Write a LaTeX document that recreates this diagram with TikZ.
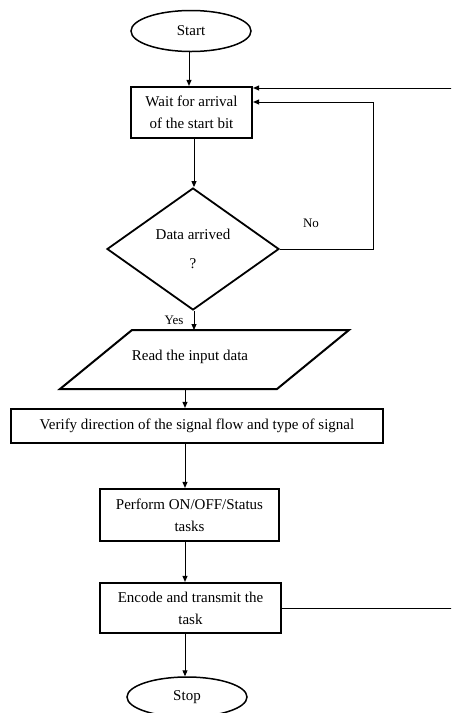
\documentclass[tikz,border=0pt]{standalone}
\usepackage{fontspec}
\setmainfont{Liberation Serif}
\usetikzlibrary{shapes.geometric,arrows.meta}
\begin{document}
\begin{tikzpicture}[x=1pt,y=-1pt,
  font=\fontsize{15}{22}\selectfont,
  term/.style={ellipse,draw,line width=1.5pt,inner sep=0pt},
  procbox/.style={rectangle,draw,line width=2.2pt,align=center,inner sep=0pt},
  decbox/.style={diamond,draw,line width=1.8pt,inner sep=0pt,align=center},
  flow/.style={line width=1pt,-{Triangle[length=6pt,width=5pt]}},
  plain/.style={line width=1pt}]
\useasboundingbox (0,0) rectangle (451,713);
\clip (0,0) rectangle (451,713);
\node[term,minimum width=120pt,minimum height=41pt] (start) at (191,31) {Start};
\node[procbox,minimum width=121pt,minimum height=51pt] (wait) at (191.5,112.5) {Wait for arrival\\of the start bit};
\node[decbox,minimum width=172pt,minimum height=122pt] (dec) at (193,249) {Data arrived\\[7pt]?};
\draw[line width=2pt] (60,389) -- (132,330) -- (349,330) -- (277,389) -- cycle;
\node[minimum height=59pt,inner sep=0pt] (read) at (190,357) {Read the input data};
\node[procbox,minimum width=372pt,minimum height=34pt] (verify) at (197,426) {Verify direction of the signal flow and type of signal};
\node[procbox,minimum width=179pt,minimum height=52pt] (perform) at (189.5,515) {Perform ON/OFF/Status\\tasks};
\node[procbox,minimum width=181pt,minimum height=50pt] (encode) at (190.5,608) {Encode and transmit the\\task};
\node[term,minimum width=120pt,minimum height=40pt] (stop) at (187,697) {Stop};
\coordinate (xa) at (189,0);
\coordinate (xb) at (194,0);
\coordinate (xc) at (185,0);
\coordinate (nob) at (373,102);
\coordinate (rt) at (456,88);
\draw[flow] (xa |- start.south) -- (xa |- wait.north);
\draw[flow] (xb |- wait.south) -- (xb |- dec.north);
\draw[flow] (xb |- dec.south) -- (xb |- 0,330);
\draw[flow] (xc |- 0,389) -- (xc |- verify.north);
\draw[flow] (xc |- verify.south) -- (xc |- perform.north);
\draw[flow] (xc |- perform.south) -- (xc |- encode.north);
\draw[flow] (xc |- encode.south) -- (xc |- stop.north);
\draw[flow] (dec.east) -| (nob) -- (wait.east |- nob);
\draw[flow] (encode.east) -| (rt) -- (wait.east |- rt);
\node[font=\fontsize{13}{15}\selectfont] (yes) at (174,320) {Yes};
\node[font=\fontsize{13}{15}\selectfont] (no) at (311,223) {No};
\end{tikzpicture}
\end{document}
